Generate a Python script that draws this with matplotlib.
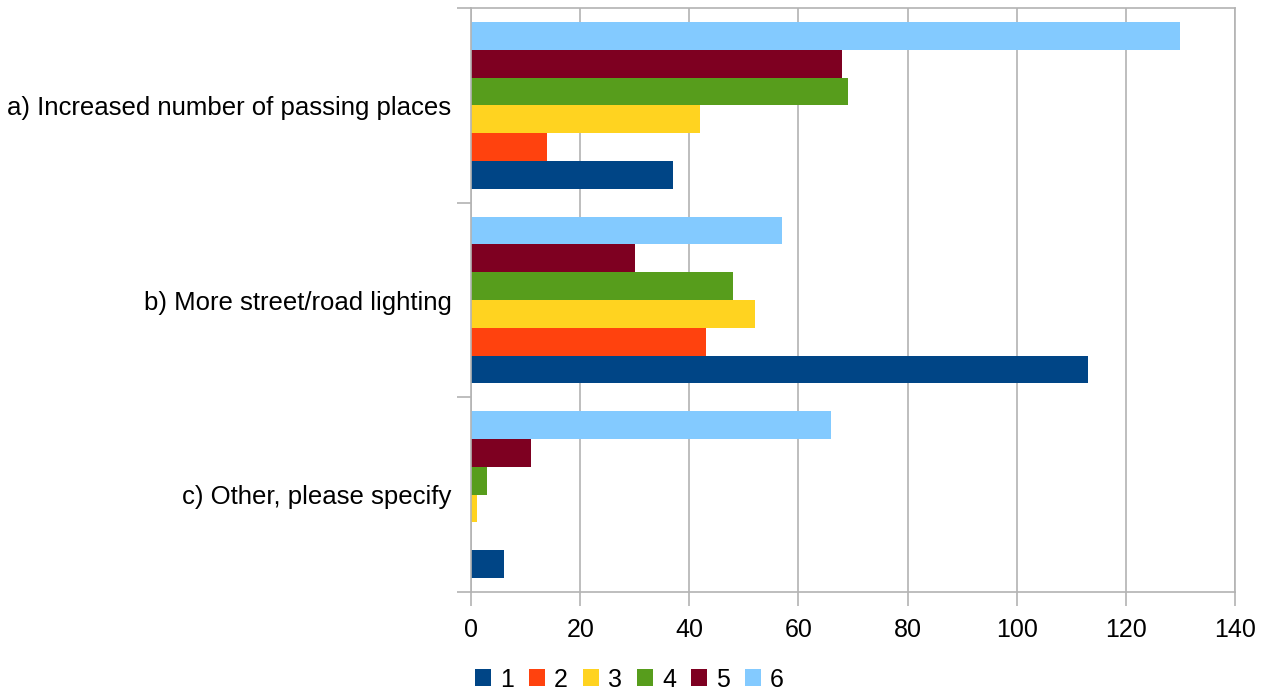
import numpy as np
import matplotlib
matplotlib.use('Agg')
import matplotlib.pyplot as plt
from matplotlib.patches import Patch

plt.rcParams['font.family'] = ['Liberation Sans', 'DejaVu Sans']

# Data
categories = ['a) Increased number of passing places',
              'b) More street/road lighting',
              'c) Other, please specify']
series_names = ['1', '2', '3', '4', '5', '6']
s1 = [37, 113, 6]
s2 = [14, 43, 0]
s3 = [42, 52, 1]
s4 = [69, 48, 3]
s5 = [68, 30, 11]
s6 = [130, 57, 66]
colors = ['#004586', '#ff420e', '#ffd320', '#579d1c', '#7e0021', '#83caff']

values = [s1, s2, s3, s4, s5, s6]

fig = plt.figure(figsize=(12.68, 6.92), dpi=100)
ax = fig.add_axes([0.3715, 0.1445, 0.6025, 0.8439])

# categories from top to bottom
ypos = np.arange(len(categories))[::-1]
bar_h = 0.1428
n = len(values)
for i, (vals, col) in enumerate(zip(values, colors)):
    offset = (i - (n - 1) / 2) * bar_h
    ax.barh(ypos + offset, vals, height=bar_h, color=col, zorder=2)

ax.set_xlim(0, 140)
ax.set_ylim(-0.5, len(categories) - 0.5)
ax.set_xticks(np.arange(0, 141, 20))
ax.set_yticks(ypos)
ax.set_yticklabels(categories)
ax.set_yticks(np.arange(-0.5, len(categories), 1), minor=True)

grid_c = '#b3b3b3'
ax.grid(axis='x', color=grid_c, linewidth=1.2, zorder=0)
ax.tick_params(axis='y', which='major', length=0, pad=14, labelsize=18.5)
ax.tick_params(axis='y', which='minor', length=10, color=grid_c, width=1.2)
ax.tick_params(axis='x', length=10, color=grid_c, width=1.2, pad=9, labelsize=18)
for sp in ax.spines.values():
    sp.set_color(grid_c)
    sp.set_linewidth(1.2)

handles = [Patch(facecolor=c, label=s) for s, c in zip(series_names, colors)]
fig.legend(handles=handles, loc='center', bbox_to_anchor=(0.4965, 0.018),
           ncol=6, frameon=False, fontsize=18, handlelength=0.64, handleheight=0.64,
           handletextpad=0.36, columnspacing=0.6, borderpad=0, borderaxespad=0)

fig.savefig('out.png', dpi=100)
